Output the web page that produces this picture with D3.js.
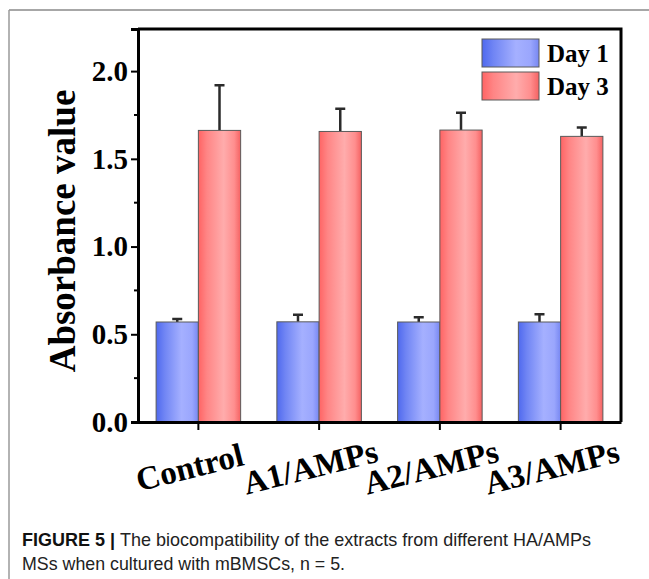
<!DOCTYPE html>
<html>
<head>
<meta charset="utf-8">
<script src="https://cdn.jsdelivr.net/npm/d3@7"></script>
<style>
  body { margin: 0; background: #fff; }
  svg { display: block; }
</style>
</head>
<body>
<div id="chart"></div>
<script>
// Data
const groups = ["Control", "A1/AMPs", "A2/AMPs", "A3/AMPs"];
const seriesNames = ["Day 1", "Day 3"];
const day1 = [0.570, 0.571, 0.570, 0.570];
const day1Err = [0.017, 0.040, 0.027, 0.044];
const day3 = [1.662, 1.656, 1.664, 1.628];
const day3Err = [0.258, 0.129, 0.098, 0.051];
const yTicks = [0.0, 0.5, 1.0, 1.5, 2.0];
const yMinorTicks = [0.25, 0.75, 1.25, 1.75];

const W = 649, H = 579;
const margin = {top: 29, right: 28, bottom: 157, left: 138};
const width = W - margin.left - margin.right;
const height = H - margin.top - margin.bottom;

const svg = d3.select("#chart").append("svg")
  .attr("width", W)
  .attr("height", H);

// gradients for the bars
const defs = svg.append("defs");
function addGrad(id, stops) {
  const g = defs.append("linearGradient").attr("id", id)
    .attr("x1", "0%").attr("x2", "100%").attr("y1", "0%").attr("y2", "0%");
  stops.forEach(s => g.append("stop").attr("offset", s[0]).attr("stop-color", s[1]));
}
addGrad("gBlue", [["0%", "#4f69ee"], ["20%", "#7085f4"], ["60%", "#a5b0ff"], ["85%", "#9aa6fd"], ["100%", "#7787f2"]]);
addGrad("gRed", [["0%", "#ff6464"], ["20%", "#ff8585"], ["60%", "#ffacac"], ["85%", "#ff8e8e"], ["100%", "#f56262"]]);

// figure frame (top + left gray rule)
svg.append("line").attr("x1", 9).attr("x2", W).attr("y1", 10).attr("y2", 10)
  .attr("stroke", "#8a8a8a").attr("stroke-width", 1.5);
svg.append("line").attr("x1", 9).attr("x2", 9).attr("y1", 10).attr("y2", H)
  .attr("stroke", "#9a9a9a").attr("stroke-width", 1.5);

const g = svg.append("g").attr("transform", `translate(${margin.left},${margin.top})`);

const x = d3.scaleBand().domain(groups).range([0, width]).padding(0);
const y = d3.scaleLinear().domain([0, 2.24]).range([height, 0]);
const barW = x.bandwidth() * 0.35;

const rows = groups.map((name, i) => ({
  name: name,
  vals: [
    {s: 0, v: day1[i], e: day1Err[i]},
    {s: 1, v: day3[i], e: day3Err[i]}
  ]
}));

const grp = g.selectAll(".grp").data(rows).enter().append("g")
  .attr("transform", d => `translate(${x(d.name) + x.bandwidth() / 2},0)`);

// error bars (upper only), drawn before bars
grp.selectAll(".err").data(d => d.vals).enter().append("path")
  .attr("d", d => {
    const cx = d.s === 0 ? -barW / 2 : barW / 2;
    const yt = y(d.v + d.e);
    return `M${cx},${y(d.v)}V${yt}M${cx - 5},${yt}H${cx + 5}`;
  })
  .attr("stroke", "#2b2b2b").attr("stroke-width", 2.5).attr("fill", "none");

grp.selectAll(".bar").data(d => d.vals).enter().append("rect")
  .attr("x", d => d.s === 0 ? -barW : 0)
  .attr("y", d => y(d.v))
  .attr("width", barW)
  .attr("height", d => height - y(d.v))
  .attr("fill", d => d.s === 0 ? "url(#gBlue)" : "url(#gRed)")
  .attr("stroke", "#5a5a5a").attr("stroke-width", 1);

// frame top/right
g.append("path")
  .attr("d", `M0,0H${width}V${height}`)
  .attr("fill", "none").attr("stroke", "#000").attr("stroke-width", 3);

// y axis
const yAxis = g.append("g")
  .call(d3.axisLeft(y).tickValues(yTicks).tickFormat(d3.format(".1f")).tickSize(7).tickPadding(3));
yAxis.select(".domain").attr("stroke-width", 3);
yAxis.selectAll(".tick line").attr("stroke-width", 2);
yAxis.selectAll("text")
  .attr("font-family", "'Liberation Serif', 'Times New Roman', serif")
  .attr("font-weight", "bold").attr("font-size", 29).attr("fill", "#000");
g.append("g").selectAll("line").data(yMinorTicks).enter().append("line")
  .attr("x1", -4).attr("x2", 0).attr("y1", d => y(d)).attr("y2", d => y(d))
  .attr("stroke", "#000").attr("stroke-width", 2);

// x axis
const xAxis = g.append("g").attr("transform", `translate(0,${height})`)
  .call(d3.axisBottom(x).tickSize(8).tickSizeOuter(0).tickFormat(""));
xAxis.select(".domain").attr("stroke-width", 3);
xAxis.selectAll(".tick line").attr("stroke-width", 2);

g.append("g").selectAll("text").data(groups).enter().append("text")
  .attr("transform", d => `translate(${x(d) + x.bandwidth() / 2 - 6},${height + 56}) rotate(-14)`)
  .attr("text-anchor", "middle")
  .attr("font-family", "'Liberation Serif', 'Times New Roman', serif")
  .attr("font-weight", "bold").attr("font-size", 33)
  .text(d => d);

// y label
svg.append("text")
  .attr("transform", `translate(75,${231}) rotate(-90)`)
  .attr("text-anchor", "middle")
  .attr("font-family", "'Liberation Serif', 'Times New Roman', serif")
  .attr("font-weight", "bold").attr("font-size", 37)
  .text("Absorbance value");

// legend
const legend = svg.append("g").attr("transform", "translate(482,39)");
seriesNames.forEach((name, i) => {
  legend.append("rect")
    .attr("x", 0).attr("y", i * 33).attr("width", 57).attr("height", 28)
    .attr("fill", i === 0 ? "url(#gBlue)" : "url(#gRed)")
    .attr("stroke", "#5a5a5a").attr("stroke-width", 1);
  legend.append("text")
    .attr("x", 65).attr("y", i * 33 + 23)
    .attr("font-family", "'Liberation Serif', 'Times New Roman', serif")
    .attr("font-weight", "bold").attr("font-size", 25)
    .text(name);
});

// caption
const cap1 = svg.append("text")
  .attr("x", 22).attr("y", 546)
  .attr("font-family", "'Liberation Sans Narrow', 'Liberation Sans', Arial, sans-serif")
  .attr("font-size", 19).attr("fill", "#222")
  .attr("textLength", 569).attr("lengthAdjust", "spacingAndGlyphs");
cap1.append("tspan").attr("font-weight", "bold").attr("fill", "#111").text("FIGURE 5 | ");
cap1.append("tspan").text("The biocompatibility of the extracts from different HA/AMPs");

svg.append("text")
  .attr("x", 22).attr("y", 570)
  .attr("font-family", "'Liberation Sans Narrow', 'Liberation Sans', Arial, sans-serif")
  .attr("font-size", 19).attr("fill", "#222")
  .attr("textLength", 323).attr("lengthAdjust", "spacingAndGlyphs")
  .text("MSs when cultured with mBMSCs, n = 5.");
</script>
</body>
</html>
